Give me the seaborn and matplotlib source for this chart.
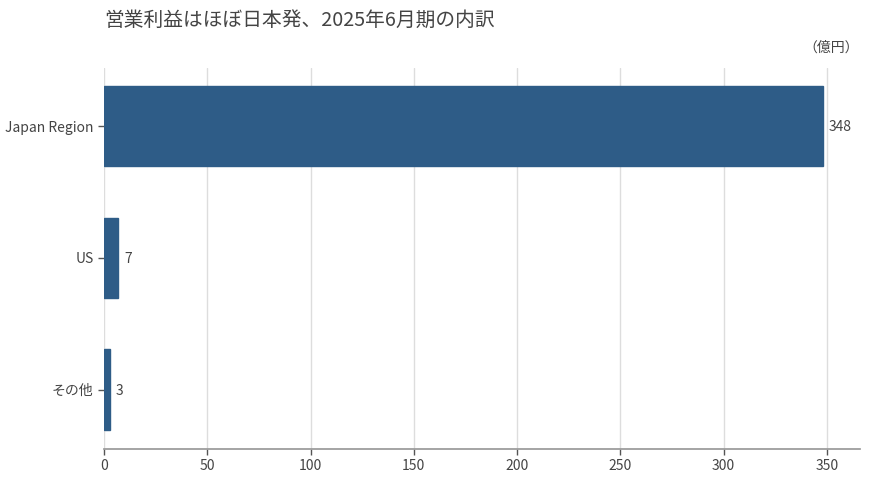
import matplotlib
matplotlib.use("Agg")
import matplotlib.pyplot as plt
import seaborn as sns
import pandas as pd

categories = ["Japan Region", "US", "その他"]
values = [348, 7, 3]
x_ticks = [0, 50, 100, 150, 200, 250, 300, 350]

sns.set_theme(style="whitegrid")
plt.rcParams['font.family'] = ['Noto Sans CJK JP', 'DejaVu Sans']

df = pd.DataFrame({"cat": categories, "val": values})

fig = plt.figure(figsize=(8.7, 4.84), dpi=100)
ax = fig.add_axes([104/870, 1-449/484, (860-104)/870, (449-68)/484])
sns.barplot(data=df, y="cat", x="val", orient="h", color="#2E5C87", width=0.61,
            saturation=1, ax=ax, edgecolor="#2E5C87")
ax.set_xlim(0, 366)
ax.set_ylim(2.45, -0.44)
ax.set_xticks(x_ticks)
ax.set_xlabel("")
ax.set_ylabel("")
ax.grid(axis="x", color="#dddddd", linewidth=1)
ax.grid(axis="y", visible=False)
for s in ["top", "right", "left"]:
    ax.spines[s].set_visible(False)
ax.spines["bottom"].set_visible(True)
ax.spines["bottom"].set_color("#999999")
ax.tick_params(axis="both", colors="#444444", labelsize=10, length=4, width=1, color="#555555",
               left=True, bottom=True)
for lbl in ax.get_xticklabels() + ax.get_yticklabels():
    lbl.set_color("#444444")
for i, v in enumerate(values):
    ax.text(v + 2.8, i + 0.01, f"{v}", va="center", ha="left", fontsize=10, color="#444444")

fig.text(104/870, 1-20/484, "営業利益はほぼ日本発、2025年6月期の内訳", fontsize=14.2,
         color="#444444", va="center", ha="left")
fig.text(859/870, 1-48/484, "（億円）", fontsize=10, color="#444444", va="center", ha="right")

fig.savefig("out.png", dpi=100)
